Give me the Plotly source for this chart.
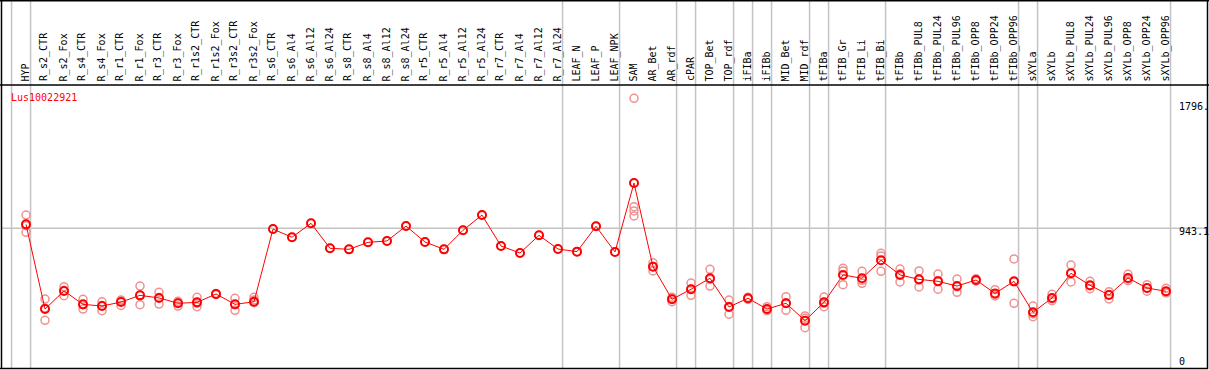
import plotly.graph_objects as go

W, H = 1209, 370

title = "Lus10022921"
categories = ["HYP", "R_s2_CTR", "R_s2_Fox", "R_s4_CTR", "R_s4_Fox", "R_r1_CTR", "R_r1_Fox",
              "R_r3_CTR", "R_r3_Fox", "R_r1s2_CTR", "R_r1s2_Fox", "R_r3s2_CTR", "R_r3s2_Fox",
              "R_s6_CTR", "R_s6_Al4", "R_s6_Al12", "R_s6_Al24", "R_s8_CTR", "R_s8_Al4", "R_s8_Al12",
              "R_s8_Al24", "R_r5_CTR", "R_r5_Al4", "R_r5_Al12", "R_r5_Al24", "R_r7_CTR", "R_r7_Al4",
              "R_r7_Al12", "R_r7_Al24", "LEAF_N", "LEAF_P", "LEAF_NPK", "SAM", "AR_Bet", "AR_rdf",
              "cPAR", "TOP_Bet", "TOP_rdf", "iFIBa", "iFIBb", "MID_Bet", "MID_rdf", "tFIBa",
              "tFIB_Gr", "tFIB_Li", "tFIB_Bi", "tFIBb", "tFIBb_PUL8", "tFIBb_PUL24", "tFIBb_PUL96",
              "tFIBb_OPP8", "tFIBb_OPP24", "tFIBb_OPP96", "sXYLa", "sXYLb", "sXYLb_PUL8",
              "sXYLb_PUL24", "sXYLb_PUL96", "sXYLb_OPP8", "sXYLb_OPP24", "sXYLb_OPP96"]

means = [969, 413, 532, 444, 433, 459, 503, 486, 451, 457, 512, 444, 461,
         938, 884, 976, 812, 805, 851, 860, 958, 853, 805, 930, 1030, 827, 781, 897, 807,
         790, 956, 788, 1240, 691, 477, 543, 615, 427, 484, 413, 451, 337, 457,
         637, 615, 733, 637, 608, 595, 564, 604, 516, 595, 392, 486, 648, 569, 505, 617, 551, 530]

replicates = [
    [1030, 917, 960], [479, 339, 420], [560, 501, 535], [477, 413, 442], [461, 402, 436],
    [472, 437, 468], [564, 442, 503], [523, 446, 489], [464, 433, 456], [490, 429, 452],
    [516, 508], [484, 405, 443], [490, 472, 455],
    [938], [884], [976], [812], [805], [851], [860], [958], [853], [805], [930], [1030],
    [827], [781], [897], [807], [790], [956], [788],
    [1796, 1085, 1057, 1024], [717, 663, 693], [461, 490, 480], [584, 503, 543],
    [674, 564, 607], [472, 379, 430], [477, 490], [429, 402, 408], [494, 405, 454],
    [368, 291, 352], [492, 429, 450], [681, 663, 573], [661, 582, 602], [779, 761, 661],
    [676, 591, 644], [663, 558, 603], [643, 543, 599], [610, 523, 559], [612, 596],
    [540, 499, 509], [742, 451, 592], [433, 363, 381], [510, 468, 480], [702, 591, 651],
    [595, 547, 565], [527, 479, 509], [641, 599, 611], [573, 530, 550], [549, 520, 521],
]

# group boundaries: separator drawn after these category indices
group_ends = [-1, 0, 28, 31, 34, 35, 37, 38, 39, 41, 42, 45, 52, 53, 60]

y_tick_values = [1796, 943.1, 0]
y_tick_labels = ["1796.", "943.1", "0"]
gridline_value = 943.1

assert len(categories) == len(means) == len(replicates)

# pixel helpers (layout only)
px_per_cat = 19.0
x0_pix = 26.0
x_range = [(0 - x0_pix) / px_per_cat, (W - x0_pix) / px_per_cat]
zero_pix = 372.0
scale = (zero_pix - 228.3) / 943.1
y_range = [(zero_pix - H) / scale, zero_pix / scale]


def py(pix):
    return 1 - pix / H


def px(pix):
    return pix / W


rx, ry = [], []
for i, reps in enumerate(replicates):
    for v in reps:
        rx.append(i)
        ry.append(v)

fig = go.Figure()
fig.add_trace(go.Scatter(
    x=rx, y=ry, mode="markers",
    marker=dict(symbol="circle-open", size=8, color="#f09090", line=dict(width=1.5, color="#f09090")),
    hoverinfo="skip", showlegend=False))
fig.add_trace(go.Scatter(
    x=list(range(len(categories))), y=means, mode="lines+markers",
    line=dict(color="#ff0000", width=1),
    marker=dict(symbol="circle-open", size=8, color="#ff0000", line=dict(width=2, color="#ff0000")),
    showlegend=False))

shapes = []
grey = "#c4c4c4"
for g in group_ends:
    xv = g + 0.24
    shapes.append(dict(type="line", xref="x", yref="paper", x0=xv, x1=xv, y0=py(368), y1=1,
                       line=dict(color=grey, width=1.5), layer="below"))
shapes.append(dict(type="line", xref="paper", yref="y", x0=px(1), x1=px(1207),
                   y0=gridline_value, y1=gridline_value, line=dict(color=grey, width=1.5), layer="below"))
# frame
black = "#000000"
shapes += [
    dict(type="line", xref="paper", yref="paper", x0=0, x1=1, y0=py(0.7), y1=py(0.7), line=dict(color=black, width=1.5)),
    dict(type="line", xref="paper", yref="paper", x0=0, x1=1, y0=py(85), y1=py(85), line=dict(color=black, width=1.5)),
    dict(type="line", xref="paper", yref="paper", x0=0, x1=px(1208), y0=py(368.5), y1=py(368.5), line=dict(color=black, width=1.5)),
    dict(type="line", xref="paper", yref="paper", x0=px(1.5), x1=px(1.5), y0=py(369), y1=1, line=dict(color=black, width=1.5)),
    dict(type="line", xref="paper", yref="paper", x0=px(1207.5), x1=px(1207.5), y0=py(369), y1=1, line=dict(color=black, width=1.5)),
]

font_family = "DejaVu Sans Mono"
annotations = []
for i, c in enumerate(categories):
    annotations.append(dict(x=i, xref="x", y=py(83.5), yref="paper", text=c, textangle=-90,
                            showarrow=False, xanchor="center", yanchor="bottom", xshift=-1,
                            font=dict(family=font_family, size=10, color="black")))
annotations.append(dict(x=px(9), xref="paper", y=py(97.5), yref="paper", text=title, showarrow=False,
                        xanchor="left", yanchor="middle", font=dict(family=font_family, size=10, color="#ff0000")))
label_centers = [106.7, 231.7, 361.7]
for lab, cy in zip(y_tick_labels, label_centers):
    annotations.append(dict(x=px(1177), xref="paper", y=py(cy), yref="paper", text=lab, showarrow=False,
                            xanchor="left", yanchor="middle", font=dict(family=font_family, size=10, color="black")))

fig.update_layout(
    width=W, height=H, margin=dict(l=0, r=0, t=0, b=0),
    paper_bgcolor="white", plot_bgcolor="white",
    xaxis=dict(range=x_range, visible=False, fixedrange=True),
    yaxis=dict(range=y_range, visible=False, fixedrange=True),
    shapes=shapes, annotations=annotations, showlegend=False,
)

fig.write_html("out.html", config={"displayModeBar": False},
               post_script="document.body.style.margin='0px';document.body.style.overflow='hidden';")
